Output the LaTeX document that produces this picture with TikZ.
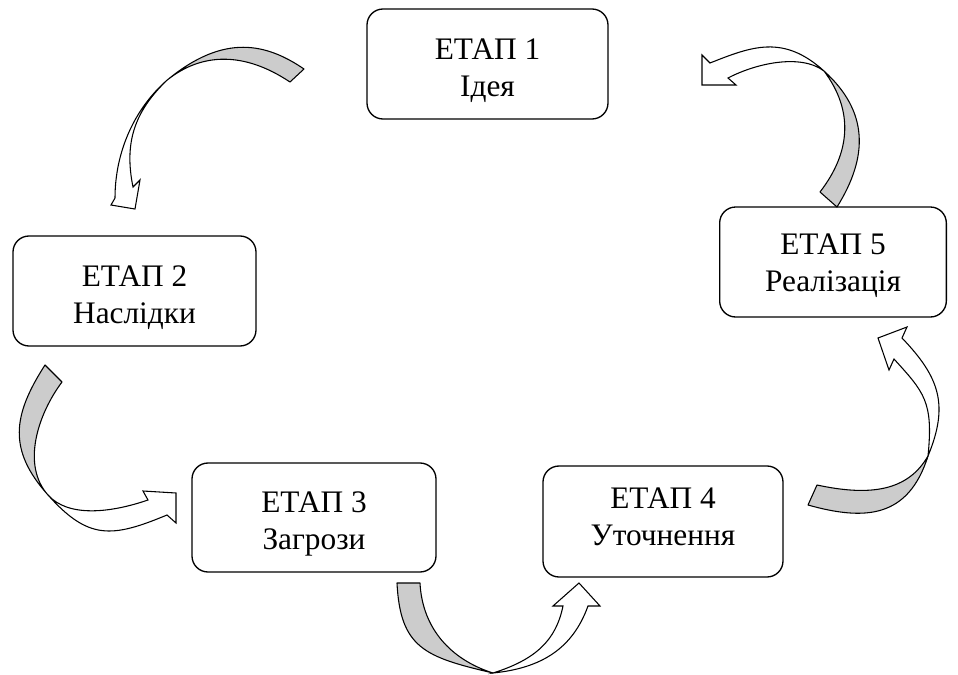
\documentclass[tikz,border=0pt]{standalone}
\usepackage{fontspec}
\setmainfont{Liberation Serif}
\tikzset{
  stage/.style={draw, line width=1pt, rounded corners=12pt, inner sep=0pt,
    font=\fontsize{23.5pt}{27.75pt}\selectfont},
  back/.style={draw, line width=0.8pt, fill=black!20, line join=round},
  front/.style={draw, line width=0.8pt, fill=white, line join=miter},
}
\newcommand{\stagetext}[3][26.25pt]{\parbox[c][60pt][t]{170pt}{\centering\rule{0pt}{#1}#2\\\rule{0pt}{26.25pt}#3}}
\begin{document}
\begin{tikzpicture}[x=0.75pt,y=-0.75pt]
\useasboundingbox (0,0) rectangle (958,675);

% Arrow A: stage 1 -> stage 2
\filldraw[back] (166.9,80.3) .. controls (224.4,32.6) and (266.8,43.7) .. (304,69) -- (290,82)
  .. controls (244.2,51.5) and (201.8,52.3) .. (166.9,80.3) -- cycle;
\filldraw[front] (166.9,80.3) arc[start angle=231, end angle=180, x radius=140, y radius=151.5]
  -- (111,205) -- (135,209) -- (140,180) -- (133,187)
  .. controls (124,142.9) and (134.3,111.7) .. (166.9,80.3) -- cycle;

% Arrow B: stage 5 -> stage 1
\filldraw[back] (824,71) .. controls (868.4,111.2) and (868.8,156) .. (837,207) -- (820,192)
  .. controls (850.5,152.5) and (854,111) .. (824,71) -- cycle;
\filldraw[front] (824,71) .. controls (783.3,34.2) and (751.9,46.4) .. (710,63)
  -- (702,55) -- (702,85) -- (736,85) -- (728,78)
  .. controls (754.6,64) and (800,53) .. (824,71) -- cycle;

% Arrow C: stage 2 -> stage 3
\filldraw[back] (45,365) .. controls (12.6,415.4) and (7.8,450) .. (48,495)
  .. controls (21.2,465) and (38,414) .. (62,382) -- cycle;
\filldraw[front] (48,495) .. controls (68.1,517.5) and (110.2,513) .. (148,500)
  -- (143,491) -- (176,493) -- (176,523) -- (167,515)
  .. controls (111.6,538.1) and (88.2,540) .. (48,495) -- cycle;

% Arrow D: stage 3 -> stage 4
\filldraw[back] (397,583) .. controls (400.3,648) and (424.8,657.1) .. (493,673)
  .. controls (450.3,659.5) and (422.3,628) .. (420,583) -- cycle;
\filldraw[front] (493,673) .. controls (542,668) and (572.7,648.3) .. (588,606)
  -- (600,606) -- (579,583) -- (553,606) -- (563,606)
  .. controls (556,640.3) and (535.8,659.5) .. (493,673) -- cycle;

% Arrow E: stage 4 -> stage 5
\filldraw[back] (928,456) .. controls (908,490.8) and (870.9,496.6) .. (817,485) -- (808,505)
  .. controls (865.6,521.2) and (908.5,517.8) .. (928,456) -- cycle;
\filldraw[front] (928,456) .. controls (948.9,405.4) and (940,377.6) .. (902,338)
  -- (907,327) -- (878,338) -- (889,370) -- (894,359)
  .. controls (924.2,392.3) and (933.5,401.6) .. (928,456) -- cycle;

% Stages
\node[stage, minimum width=180.75pt, minimum height=82.5pt] (s1) at (487.5,64) {\stagetext{ЕТАП 1}{Ідея}};
\node[stage, minimum width=182.25pt, minimum height=82.5pt] (s2) at (134.5,291) {\stagetext{ЕТАП 2}{Наслідки}};
\node[stage, minimum width=183pt, minimum height=81.75pt] (s3) at (314,517.5) {\stagetext{ЕТАП 3}{Загрози}};
\node[stage, minimum width=180pt, minimum height=83.25pt] (s4) at (663,521.5) {\stagetext[20.5pt]{ЕТАП 4}{Уточнення}};
\node[stage, minimum width=168pt, minimum height=82.5pt] (s5) at (833,262) {\stagetext[24.25pt]{ЕТАП 5}{Реалізація}};
\end{tikzpicture}
\end{document}
